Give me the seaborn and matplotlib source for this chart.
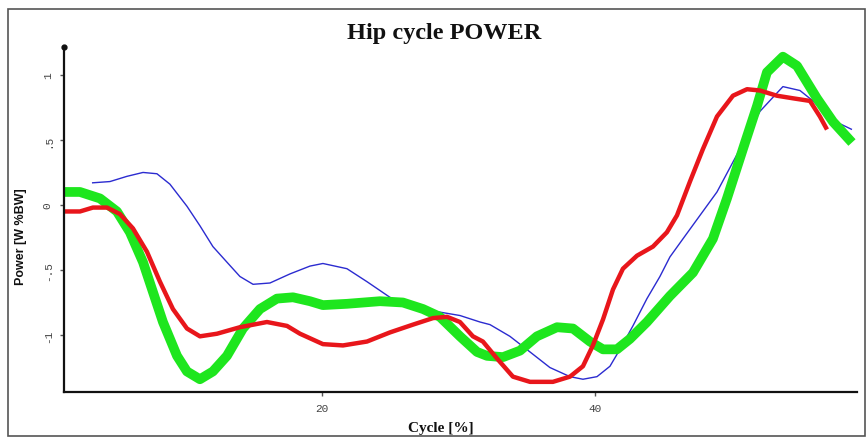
import matplotlib
matplotlib.use("Agg")
import matplotlib.pyplot as plt
from matplotlib.patches import Rectangle
import seaborn as sns

# Hip joint power over the gait cycle, three conditions
green_cycle = [1.10, 2.27, 3.74, 4.98, 5.93, 6.89, 7.62, 8.35, 9.38, 10.11, 11.06, 12.01,
               13.04, 14.21, 15.46, 16.70, 17.88, 19.12, 20.07, 21.83, 24.25, 25.93, 27.40,
               28.64, 30.11, 31.36, 32.09, 33.26, 34.51, 35.75, 37.22, 38.39, 39.63, 40.59,
               41.61, 42.56, 43.81, 45.49, 47.18, 48.64, 49.67, 50.84, 51.87, 52.60, 53.77,
               54.80, 56.26, 57.44, 58.83]
green_power = [0.10, 0.10, 0.05, -0.05, -0.21, -0.44, -0.67, -0.90, -1.16, -1.28, -1.34, -1.28,
               -1.16, -0.95, -0.80, -0.72, -0.71, -0.74, -0.77, -0.76, -0.74, -0.75, -0.80,
               -0.86, -1.01, -1.13, -1.16, -1.17, -1.12, -1.01, -0.94, -0.95, -1.05, -1.11,
               -1.11, -1.03, -0.90, -0.70, -0.52, -0.26, 0.05, 0.43, 0.76, 1.02, 1.14,
               1.07, 0.82, 0.64, 0.48]

red_cycle = [1.10, 2.27, 3.22, 4.25, 5.20, 6.15, 7.18, 8.13, 9.08, 10.11, 11.06, 12.31,
             13.99, 15.97, 17.44, 18.39, 20.07, 21.54, 23.30, 24.98, 26.67, 28.13, 29.16,
             30.11, 31.06, 31.79, 32.82, 33.99, 35.24, 36.92, 38.17, 39.12, 39.85, 40.59,
             41.32, 42.05, 43.08, 44.25, 45.27, 46.01, 46.96, 47.91, 48.94, 50.11, 51.14,
             52.09, 53.33, 54.51, 55.75, 56.48, 57.00]
red_power = [-0.05, -0.05, -0.02, -0.02, -0.07, -0.18, -0.36, -0.59, -0.80, -0.95, -1.01, -0.99,
             -0.94, -0.90, -0.93, -0.99, -1.07, -1.08, -1.05, -0.98, -0.92, -0.87, -0.86,
             -0.90, -1.01, -1.05, -1.18, -1.32, -1.36, -1.36, -1.32, -1.24, -1.08, -0.88,
             -0.65, -0.49, -0.39, -0.32, -0.21, -0.08, 0.18, 0.43, 0.68, 0.84, 0.89,
             0.88, 0.84, 0.82, 0.80, 0.68, 0.58]

blue_cycle = [3.15, 4.47, 5.71, 6.89, 7.91, 8.86, 10.11, 11.06, 12.01, 13.04, 13.99, 14.95,
              16.19, 17.66, 19.12, 20.07, 21.83, 23.30, 24.98, 26.67, 28.42, 30.11, 31.58,
              32.31, 33.77, 35.24, 36.70, 38.17, 39.12, 40.15, 41.10, 41.83, 42.78, 43.81,
              44.76, 45.49, 46.45, 48.94, 50.62, 52.09, 53.77, 55.02, 55.97, 57.44, 58.83]
blue_power = [0.17, 0.18, 0.22, 0.25, 0.24, 0.16, -0.01, -0.16, -0.32, -0.44, -0.55, -0.61,
              -0.60, -0.53, -0.47, -0.45, -0.49, -0.59, -0.71, -0.78, -0.82, -0.85, -0.90,
              -0.92, -1.01, -1.13, -1.25, -1.32, -1.34, -1.32, -1.24, -1.11, -0.93, -0.72,
              -0.55, -0.40, -0.26, 0.10, 0.43, 0.72, 0.91, 0.88, 0.80, 0.65, 0.58]

y_ticks = [1.0, 0.5, 0.0, -0.5, -1.0]
y_tick_labels = ["1", ".5", "0", "-.5", "-1"]
x_ticks = [20, 40]
x_tick_labels = ["20", "40"]

sns.set_theme(style="white")
plt.rcParams["font.family"] = ["DejaVu Sans"]

fig = plt.figure(figsize=(8.67, 4.39), dpi=100)
ax = fig.add_axes([0.0738, 0.1048, 0.9147, 0.786])

# Outer frame around the whole figure
fig.patches.append(Rectangle((8 / 867, 2 / 439), 857 / 867, 427 / 439,
                             transform=fig.transFigure, fill=False,
                             edgecolor="#555555", linewidth=1.2))

line_kw = dict(ax=ax, sort=False, estimator=None, solid_joinstyle="round",
               solid_capstyle="butt")
sns.lineplot(x=blue_cycle, y=blue_power, color="#2b2bd0", linewidth=1.0, **line_kw)
sns.lineplot(x=green_cycle, y=green_power, color="#1ee61e", linewidth=7.0, **line_kw)
sns.lineplot(x=red_cycle, y=red_power, color="#e8161b", linewidth=3.2, **line_kw)

ax.set_xlim(1.1, 59.2)
ax.set_ylim(-1.438, 1.215)

for side in ["top", "right"]:
    ax.spines[side].set_visible(False)
for side in ["left", "bottom"]:
    ax.spines[side].set_color("#111111")
    ax.spines[side].set_linewidth(1.6)

# small knob at the top of the vertical axis
ax.plot([0], [1], marker="o", markersize=3.5, color="#111111",
        transform=ax.transAxes, clip_on=False)

ax.set_yticks(y_ticks)
ax.set_yticklabels(y_tick_labels, rotation=90, va="center", fontsize=8, color="#444444",
                   family="Liberation Mono")
ax.set_xticks(x_ticks)
ax.set_xticklabels(x_tick_labels, fontsize=8, color="#444444", family="Liberation Mono")
ax.tick_params(axis="both", which="both", length=3, width=1, color="#555555",
               direction="out", pad=5, left=True, bottom=True)

fig.text(444 / 867, 1 - 34 / 439, "Hip cycle POWER", fontsize=17.5, fontweight="bold",
         family="Liberation Serif", ha="center", va="center", color="#111111")
fig.text(441 / 867, 1 - 429 / 439, "Cycle [%]", fontsize=11, fontweight="bold",
         family="Liberation Serif", ha="center", va="center", color="#111111")
fig.text(21 / 867, 1 - 237 / 439, "Power [W %BW]", fontsize=9, fontweight="bold",
         family="Liberation Sans", ha="center", va="center", rotation=90, color="#111111")

fig.savefig("out.png", dpi=100)
